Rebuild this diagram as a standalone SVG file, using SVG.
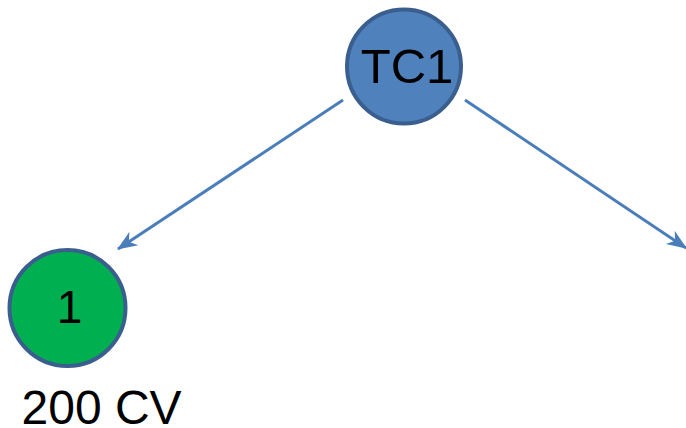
<svg xmlns="http://www.w3.org/2000/svg" width="686" height="428" viewBox="0 0 686 428">
<style>
.edge{stroke:#4a7ebb;stroke-width:3;fill:none}
.node circle{stroke:#3a5f8e;stroke-width:4}
.lbl{font-family:"Liberation Sans",Arial,sans-serif;fill:#000}
</style>
<defs>
<marker id="ah" markerUnits="userSpaceOnUse" markerWidth="24" markerHeight="20" viewBox="-20 -10 22 20" refX="0" refY="0" orient="auto">
<path d="M1,0 L-19,-8 L-13,0 L-19,8 Z" fill="#4a7ebb"/>
</marker>
</defs>
<rect width="686" height="428" fill="#fff"/>
<g id="connectors">
<line class="edge" x1="343" y1="100" x2="118" y2="249" marker-end="url(#ah)"/>
<line class="edge" x1="465" y1="100" x2="686" y2="248" marker-end="url(#ah)"/>
</g>
<g id="node-tc1" class="node">
<circle cx="404" cy="66.5" r="57" fill="#4f81bd"/>
<text class="lbl" x="407" y="83" font-size="49" text-anchor="middle">TC1</text>
</g>
<g id="node-1" class="node">
<circle cx="67.5" cy="308" r="58" fill="#00b050"/>
<text class="lbl" x="69.5" y="323" font-size="46" text-anchor="middle">1</text>
</g>
<text id="label-200cv" class="lbl" x="21.5" y="424" font-size="48">200 CV</text>
</svg>
